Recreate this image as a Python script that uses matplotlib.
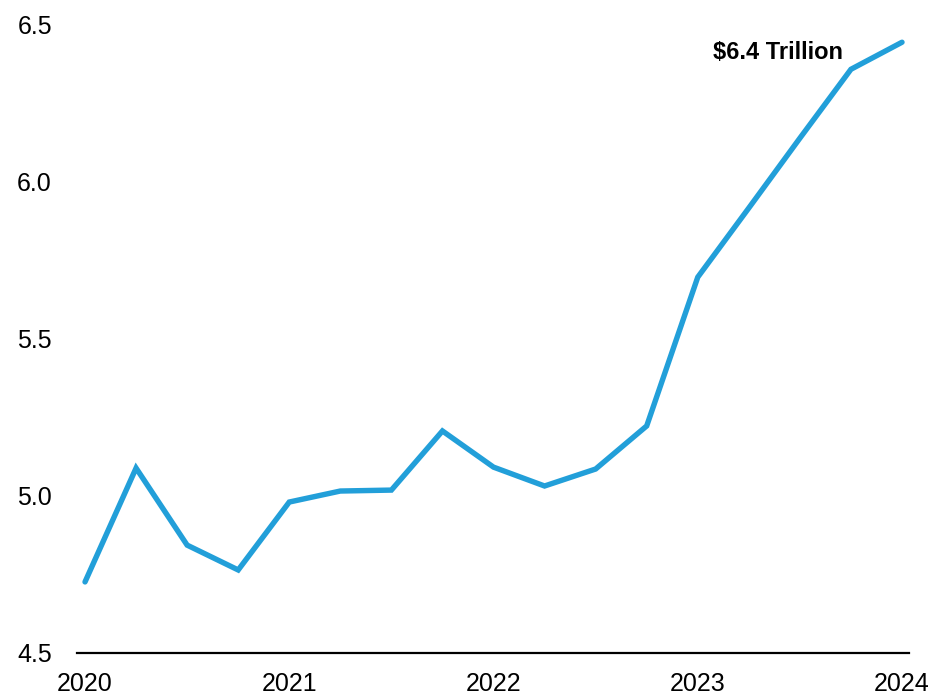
import matplotlib
matplotlib.use("Agg")
import matplotlib.pyplot as plt

plt.rcParams['font.family'] = ['Liberation Sans', 'DejaVu Sans']

# Quarterly values, 2020 Q1 through 2024 Q1 ($ trillion)
quarters = list(range(17))
values = [4.726, 5.088, 4.843, 4.764, 4.980, 5.015, 5.018, 5.206, 5.091,
          5.031, 5.085, 5.222, 5.695, 5.915, 6.137, 6.356, 6.442]
year_ticks = [0, 4, 8, 12, 16]
year_labels = ['2020', '2021', '2022', '2023', '2024']
y_ticks = [4.5, 5.0, 5.5, 6.0, 6.5]
y_labels = ['4.5', '5.0', '5.5', '6.0', '6.5']
callout = '$6.4 Trillion'

fig = plt.figure(figsize=(9.31, 6.97), dpi=100)
ax = fig.add_axes([77 / 931, 1 - 653 / 697, (909 - 77) / 931, (653 - 24) / 697])

ax.plot(quarters, values, color='#229FD9', linewidth=3.9,
        solid_capstyle='round', solid_joinstyle='miter')

ax.set_xlim(-0.157, 16.137)
ax.set_ylim(4.5, 6.5)
ax.set_xticks(year_ticks)
ax.set_xticklabels(year_labels, fontsize=18)
ax.set_yticks(y_ticks)
ax.set_yticklabels(y_labels, fontsize=18)
ax.tick_params(axis='x', length=0, pad=14)
ax.tick_params(axis='y', length=0, pad=18)

for side in ['top', 'right', 'left']:
    ax.spines[side].set_visible(False)
ax.spines['bottom'].set_linewidth(1.6)
ax.spines['bottom'].set_color('black')

ax.annotate(callout.replace('$', r'\$'), xy=(quarters[-1], values[-1]),
            xytext=(-42.5, -7.2), textcoords='offset points',
            ha='right', va='center', fontsize=17, fontweight='bold')

fig.savefig('out.png', dpi=100, facecolor='white')
